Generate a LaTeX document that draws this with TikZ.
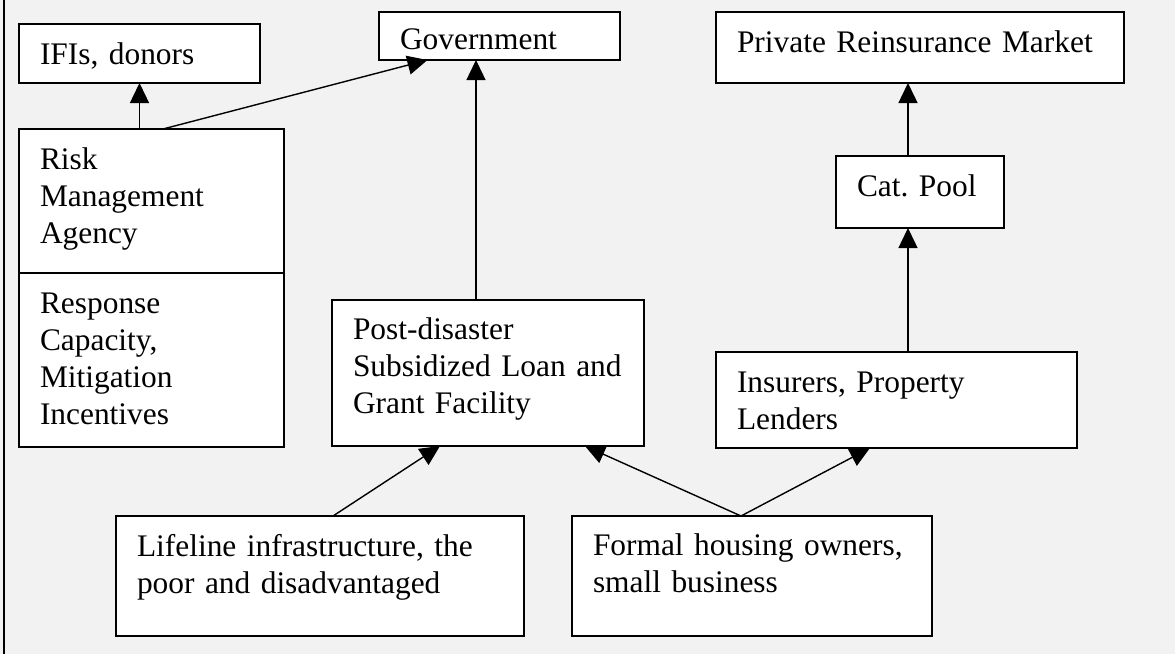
\documentclass[tikz,border=0pt]{standalone}
\usepackage{fontspec}
\setmainfont{Liberation Serif}
\usepackage{tikz}
\usetikzlibrary{arrows.meta,positioning,calc}
\definecolor{pagegray}{RGB}{242,242,242}
\definecolor{inkblack}{RGB}{0,0,0}

\begin{document}
\begin{tikzpicture}[
  x=0.5pt, y=-0.5pt,
  bx/.style={draw=inkblack, fill=white, line width=1pt, anchor=north west,
    inner xsep=10.5pt, inner ysep=0pt, outer sep=0pt, text height=20pt, align=left,
    font=\fontsize{15.7}{18.5}\selectfont\frenchspacing},
  arr/.style={-{Triangle[length=10pt,width=9.5pt]}, line width=0.7pt, inkblack}
]
  \fill[pagegray] (0,0) rectangle (1175,654);
  \useasboundingbox (0,0) rectangle (1175,654);
  \draw[line width=1pt] (4,0) -- (4,654);

  % top row
  \node[bx, text width=99.5pt, text depth=9.5pt] (ifi) at (19,24) {IFIs, donors};
  \node[bx, text width=99.5pt, text height=18.5pt, text depth=5.5pt] (gov) at (379,12) {Government};
  \node[bx, text width=183pt, text depth=15.5pt] (priv) at (716,12) {Private Reinsurance Market};

  % middle
  \node[bx, text width=111.5pt, text depth=52pt] (rma) at (19,129) {Risk\\Management\\Agency};
  \node[bx, text width=111.5pt, text depth=67pt] (resp) at (rma.south west) {Response\\Capacity,\\Mitigation\\Incentives};
  \node[bx, text width=63pt, text depth=16pt] (cat) at (836,156) {\mbox{Cat. Pool}};
  \node[bx, text width=135pt, text height=19.5pt, text depth=53.5pt] (post) at (332,300) {Post-disaster\\\mbox{Subsidized Loan and}\\Grant Facility};
  \node[bx, text width=159.5pt, text depth=28pt] (ins) at (716,352) {Insurers, Property\\Lenders};

  % bottom row
  \node[bx, text width=183pt, text depth=40pt] (life) at (116,516) {Lifeline infrastructure, the\\poor and disadvantaged};
  \node[bx, text width=159pt, text height=19.5pt, text depth=40.5pt] (form) at (572,516) {Formal housing owners,\\small business};

  \coordinate (fj) at ([xshift=-5.5pt]form.north);

  \draw[arr] (ifi.south |- rma.north) -- (ifi.south);
  \draw[arr] ([xshift=5.75pt]rma.north) -- ([xshift=-36pt]gov.south);
  \draw[arr] ([xshift=-6pt]post.north) -- ([xshift=-6pt]post.north |- gov.south);
  \draw[arr] ([xshift=-6pt]cat.north) -- ([xshift=-6pt]cat.north |- priv.south);
  \draw[arr] ([xshift=-6pt]cat.south |- ins.north) -- ([xshift=-6pt]cat.south);
  \draw[arr] ([xshift=6.5pt]life.north) -- ([xshift=-24pt]post.south);
  \draw[arr] (fj) -- ([xshift=48.5pt]post.south);
  \draw[arr] (fj) -- ([xshift=-13.25pt]ins.south);
\end{tikzpicture}
\end{document}
